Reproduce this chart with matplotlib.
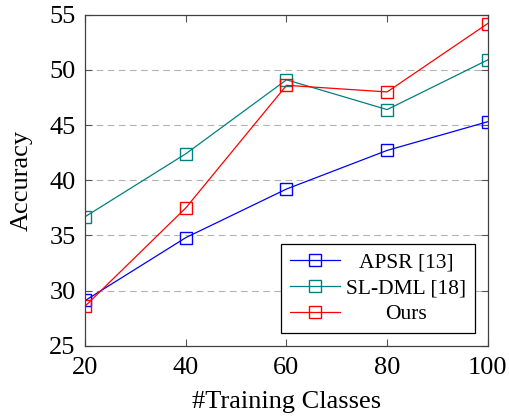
import matplotlib
matplotlib.use("Agg")
import matplotlib.pyplot as plt

# data
classes = [20, 40, 60, 80, 100]
apsr = [29.1, 34.8, 39.2, 42.7, 45.3]
sl_dml = [36.7, 42.4, 49.1, 46.4, 50.9]
ours = [28.6, 37.5, 48.6, 48.0, 54.2]

series_names = ["APSR [13]", "SL-DML [18]", "Ours"]
series_colors = ["#0000ff", "#008080", "#ff0000"]
y_ticks = [25, 30, 35, 40, 45, 50, 55]

plt.rcParams["font.family"] = ["Liberation Serif", "DejaVu Serif"]

fig = plt.figure(figsize=(5.1, 4.16), dpi=100)
ax = fig.add_axes([85.3 / 510, 1 - 345.7 / 416, (487.7 - 85.3) / 510, (345.7 - 14.7) / 416])

for vals, name, col in zip([apsr, sl_dml, ours], series_names, series_colors):
    ax.plot(classes, vals, color=col, lw=0.9, marker="s", markersize=8.5,
            markerfacecolor="none", markeredgecolor=col, markeredgewidth=1.0,
            label=name)

ax.set_xlim(20, 100)
ax.set_ylim(25, 55)
ax.set_xticks(classes)
ax.set_yticks(y_ticks)

# dashed horizontal grid
for y in y_ticks[1:-1]:
    ax.axhline(y, color="#b3b3b3", lw=0.8, ls=(0, (6, 4)), zorder=0)

ax.tick_params(direction="in", top=True, right=True, length=5, width=0.8,
               color="#555555", labelsize=19)
ax.tick_params(axis="x", pad=8)
ax.tick_params(axis="y", pad=7)
for sp in ax.spines.values():
    sp.set_color("#404040")
    sp.set_linewidth(0.9)

ax.set_xlabel("#Training Classes", fontsize=19, labelpad=9)
ax.set_ylabel("Accuracy", fontsize=19, labelpad=12)

leg = ax.legend(loc="lower right", fontsize=15.5, frameon=True, fancybox=False,
                edgecolor="black", framealpha=1, borderpad=0.4, handlelength=2.3,
                handletextpad=0.3, labelspacing=0.27, borderaxespad=0.6)
leg.get_frame().set_linewidth(0.9)

# center the legend labels like in the reference
fig.canvas.draw()
texts = leg.get_texts()
widths = [t.get_window_extent().width for t in texts]
wmax = max(widths)
for t, w in zip(texts, widths):
    t.set_x((wmax - w) / 2)

fig.savefig("out.png", dpi=100)
